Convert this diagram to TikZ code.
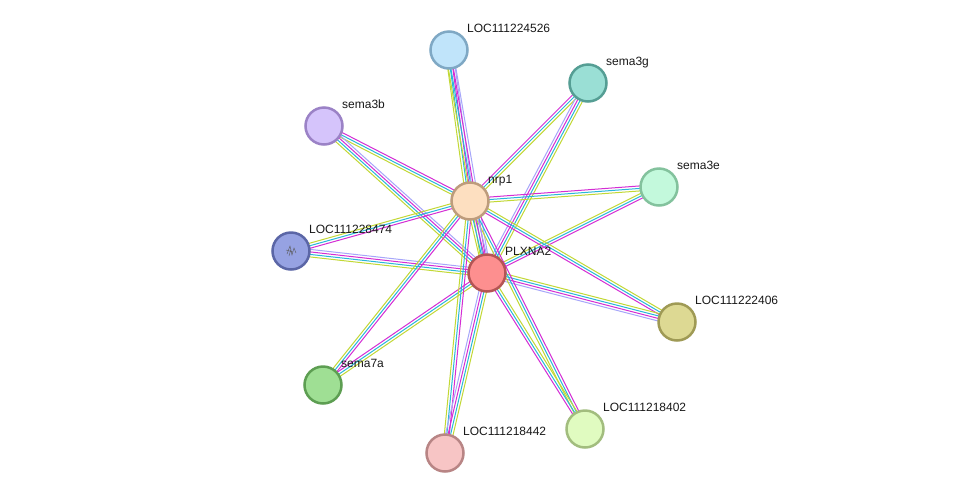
\documentclass[tikz,border=0pt]{standalone}
\usepackage{fontspec}
\setmainfont{Liberation Sans}
\usetikzlibrary{calc}
\pgfdeclarelayer{bgfill}
\pgfdeclarelayer{edges}
\pgfsetlayers{bgfill,edges,main}
\definecolor{eyg}{RGB}{194,216,52}
\definecolor{ecy}{RGB}{41,183,217}
\definecolor{emg}{RGB}{212,45,212}
\definecolor{elv}{RGB}{166,166,250}
\tikzset{
  prot/.style={circle, minimum size=37pt, inner sep=0pt, line width=2.5pt},
  lbl/.style={anchor=base west, inner sep=0pt, font=\fontsize{12}{14}\selectfont, text=black!90},
  eline/.style={line width=1pt},
}
\newcommand\eln[4]{\draw[eline,#4] ($(#1)!#3!90:(#2)$) -- ($(#2)!#3!-90:(#1)$);}
\newcommand\edgeFour[2]{\eln{#1}{#2}{-3.75pt}{eyg}\eln{#1}{#2}{-1.25pt}{ecy}\eln{#1}{#2}{1.25pt}{emg}\eln{#1}{#2}{3.75pt}{elv}}
\newcommand\edgeFourR[2]{\eln{#1}{#2}{3.75pt}{eyg}\eln{#1}{#2}{1.25pt}{ecy}\eln{#1}{#2}{-1.25pt}{emg}\eln{#1}{#2}{-3.75pt}{elv}}
\newcommand\edgeThree[2]{\eln{#1}{#2}{-2.5pt}{eyg}\eln{#1}{#2}{0pt}{ecy}\eln{#1}{#2}{2.5pt}{emg}}
\newcommand\edgeThreeR[2]{\eln{#1}{#2}{2.5pt}{eyg}\eln{#1}{#2}{0pt}{ecy}\eln{#1}{#2}{-2.5pt}{emg}}
\begin{document}
\begin{tikzpicture}[x=1pt,y=-1pt]
\begin{pgfonlayer}{bgfill}
\fill[white] (0,0) rectangle (975,499);
\end{pgfonlayer}
\useasboundingbox (0,0) rectangle (975,499);
% proteins
\node[prot, fill={rgb,255:red,192;green,228;blue,250}, draw={rgb,255:red,127;green,168;blue,196}] (n526) at (449,50) {};
\node[prot, fill={rgb,255:red,154;green,223;blue,213}, draw={rgb,255:red,85;green,158;blue,148}] (s3g) at (588,83) {};
\node[prot, fill={rgb,255:red,213;green,196;blue,251}, draw={rgb,255:red,155;green,130;blue,198}] (s3b) at (324,126) {};
\node[prot, fill={rgb,255:red,253;green,223;blue,192}, draw={rgb,255:red,189;green,156;blue,124}] (nrp) at (470,201) {};
\node[prot, fill={rgb,255:red,195;green,249;blue,220}, draw={rgb,255:red,131;green,194;blue,157}] (s3e) at (659,187) {};
\node[prot, fill={rgb,255:red,150;green,162;blue,226}, draw={rgb,255:red,91;green,102;blue,166}] (n474) at (291,251) {};
\node[prot, fill={rgb,255:red,253;green,143;blue,143}, draw={rgb,255:red,180;green,85;blue,85}] (plx) at (487,273) {};
\node[prot, fill={rgb,255:red,221;green,217;blue,147}, draw={rgb,255:red,159;green,154;blue,85}] (n406) at (677,322) {};
\node[prot, fill={rgb,255:red,159;green,223;blue,148}, draw={rgb,255:red,93;green,158;blue,82}] (s7a) at (323,385) {};
\node[prot, fill={rgb,255:red,224;green,251;blue,192}, draw={rgb,255:red,162;green,189;blue,126}] (n402) at (585,429) {};
\node[prot, fill={rgb,255:red,247;green,197;blue,197}, draw={rgb,255:red,184;green,133;blue,133}] (n442) at (445,453) {};
% structure scribble inside LOC111228474
\draw[gray!70!black, line width=0.4pt] ($(n474)+(-4,3)$) -- ($(n474)+(-1,-5)$) -- ($(n474)+(1,4)$) -- ($(n474)+(3,-3)$) -- ($(n474)+(5,2)$)
  ($(n474)+(-5,-1)$) -- ($(n474)+(2,1)$) ($(n474)+(-2,5)$) -- ($(n474)+(0,-2)$);
% labels
\node[lbl] (l526) at ($(n526)+(18,-18)$) {LOC111224526};
\node[lbl] (l3g) at ($(s3g)+(18,-18)$) {sema3g};
\node[lbl] (l3b) at ($(s3b)+(18,-18)$) {sema3b};
\node[lbl] (lnrp) at ($(nrp)+(18,-18)$) {nrp1};
\node[lbl] (l3e) at ($(s3e)+(18,-18)$) {sema3e};
\node[lbl] (l474) at ($(n474)+(18,-18)$) {LOC111228474};
\node[lbl] (lplx) at ($(plx)+(18,-18)$) {PLXNA2};
\node[lbl] (l406) at ($(n406)+(18,-18)$) {LOC111222406};
\node[lbl] (l7a) at ($(s7a)+(18,-18)$) {sema7a};
\node[lbl] (l402) at ($(n402)+(18,-18)$) {LOC111218402};
\node[lbl] (l442) at ($(n442)+(18,-18)$) {LOC111218442};
% edges
\begin{pgfonlayer}{edges}
\edgeFour{n526}{nrp}
\edgeFour{n526}{plx}
\edgeThreeR{s3g}{nrp}
\edgeFourR{s3g}{plx}
\edgeThree{s3b}{nrp}
\edgeFour{s3b}{plx}
\edgeThreeR{s3e}{nrp}
\edgeThree{s3e}{plx}
\edgeThreeR{n474}{nrp}
\edgeFour{n474}{plx}
\edgeThree{n406}{nrp}
\edgeFour{n406}{plx}
\edgeThreeR{s7a}{nrp}
\edgeThree{s7a}{plx}
\edgeThreeR{n402}{nrp}
\edgeThree{n402}{plx}
\edgeThreeR{n442}{nrp}
\edgeFour{n442}{plx}
\edgeFour{nrp}{plx}
\end{pgfonlayer}
\end{tikzpicture}
\end{document}
